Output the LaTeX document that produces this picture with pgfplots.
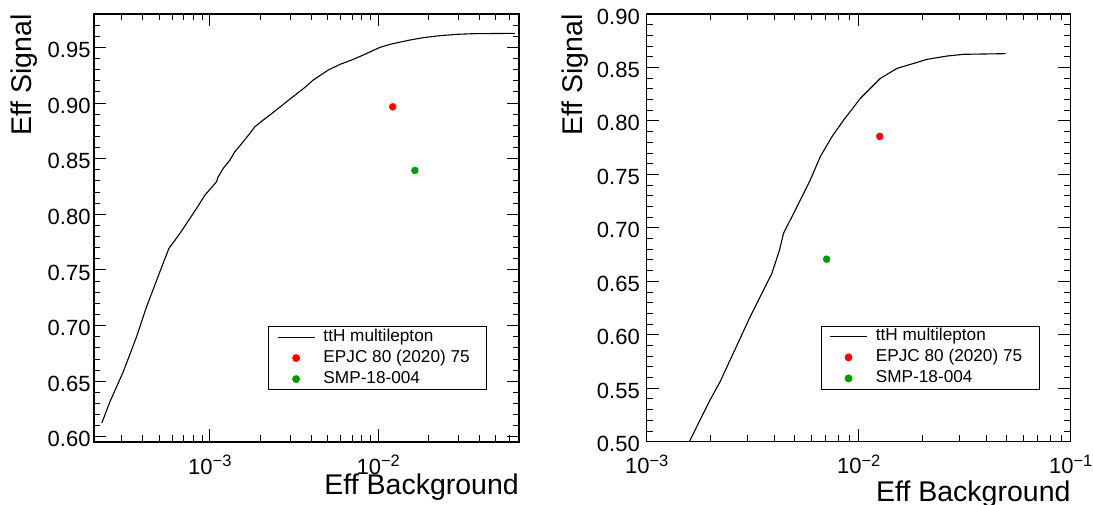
\documentclass[border=0pt]{standalone}
\usepackage{fontspec}
\setmainfont{Liberation Sans}
\usepackage{pgfplots}
\pgfplotsset{compat=1.18}
\definecolor{rootred}{RGB}{255,0,0}
\definecolor{rootgreen}{RGB}{0,153,0}
\newcommand{\tenpow}[1]{10\raisebox{7.5pt}{\fontsize{16.5}{16.5}\selectfont −#1}}
\pgfplotsset{
  rootstyle/.style={
    scale only axis,
    axis line style={line width=1.5pt},
    every tick/.style={black, line width=0.9pt},
    tick align=inside,
    major tick length=12.5pt, minor tick length=6.5pt,
    /pgf/number format/assume math mode=true,
    xticklabel style={font=\fontsize{22}{24}\selectfont, anchor=north, inner sep=0pt, yshift=-13pt},
    yticklabel style={font=\fontsize{22}{24}\selectfont, anchor=east, inner sep=0pt,
      /pgf/number format/fixed, /pgf/number format/fixed zerofill, /pgf/number format/precision=2},
    every axis x label/.style={anchor=base east, inner sep=0pt, font=\fontsize{28.5}{30}\selectfont},
    every axis y label/.style={rotate=90, anchor=base east, inner sep=0pt, font=\fontsize{28.5}{30}\selectfont},
    xlabel={Eff Background}, ylabel={Eff Signal},
    legend cell align=left,
    legend style={anchor=south west, draw=black, line width=0.8pt, fill=white,
      inner xsep=8.4pt, inner ysep=0pt, row sep=0pt, column sep=8.3pt,
      font=\fontsize{17.2}{17.2}\selectfont,
      nodes={inner sep=0pt, text height=14.5pt, text depth=6.5pt}},
  },
  linelegend/.style={legend image code/.code={\draw[##1] (0pt,0pt) -- (37pt,0pt);}},
  marklegend/.style={legend image code/.code={\path[draw=none] (0pt,0pt) -- (37pt,0pt); \draw[##1] plot coordinates {(18.5pt,0pt)};}},
}
\begin{document}
\begin{tikzpicture}
\useasboundingbox (0,0) rectangle (1093pt,505pt);
% ---------------- left panel ----------------
\begin{axis}[xmode=log, rootstyle, at={(94pt,63pt)}, anchor=south west, width=425pt, height=428pt,
  xmin=2.05e-4, xmax=0.0686, ymin=0.5954, ymax=0.98,
  xtick={1e-3,1e-2}, xticklabels={\tenpow{3},\tenpow{2}},
  minor xtick={3e-4,4e-4,5e-4,6e-4,7e-4,8e-4,9e-4,2e-3,3e-3,4e-3,5e-3,6e-3,7e-3,8e-3,9e-3,2e-2,3e-2,4e-2,5e-2,6e-2},
  ytick={0.60,0.65,0.70,0.75,0.80,0.85,0.90,0.95},
  minor ytick={0.60,0.61,0.62,0.63,0.64,0.66,0.67,0.68,0.69,0.71,0.72,0.73,0.74,0.76,0.77,0.78,0.79,0.81,0.82,0.83,0.84,0.86,0.87,0.88,0.89,0.91,0.92,0.93,0.94,0.96,0.97},
  yticklabel style={xshift=-3.3pt, yshift=-2.5pt},
  xlabel style={at={(axis description cs:1,-0.1238)}},
  ylabel style={at={(axis description cs:-0.1459,1)}},
  legend style={at={(axis description cs:0.4101,0.1215)}},
]
\addplot[black, line width=1.1pt, linelegend] coordinates {
(2.2823e-4,0.6125) (2.5458e-4,0.6314) (3.0554e-4,0.6583) (3.6667e-4,0.6898) (4.2055e-4,0.7168)
(5.0467e-4,0.7483) (5.706e-4,0.7692) (6.633e-4,0.7827) (7.606e-4,0.7962) (8.333e-4,0.8052)
(9.339e-4,0.8172) (1.0955e-3,0.8292) (1.1207e-3,0.8337) (1.2000e-3,0.8412) (1.3147e-3,0.8487)
(1.4075e-3,0.8562) (1.5777e-3,0.8652) (1.7282e-3,0.8727) (1.8508e-3,0.8787) (2.0740e-3,0.8847)
(2.2721e-3,0.8892) (2.5459e-3,0.8951) (2.9866e-3,0.9035) (3.6667e-3,0.9140) (4.1096e-3,0.9206)
(5.0467e-3,0.9296) (5.9198e-3,0.9347) (7.1031e-3,0.9392) (8.1457e-3,0.9431) (1.0231e-2,0.9500)
(1.1730e-2,0.9527) (1.5420e-2,0.9566) (1.8505e-2,0.9587) (2.3236e-2,0.9605) (2.9187e-2,0.9617)
(3.6659e-2,0.9623) (6.4820e-2,0.9626)};
\addlegendentry{\makebox[155pt][l]{ttH multilepton}}
\addplot[only marks, mark=*, mark size=3.5pt, color=rootred, marklegend] coordinates {(0.01219,0.8966)};
\addlegendentry{\makebox[155pt][l]{EPJC 80 (2020) 75}}
\addplot[only marks, mark=*, mark size=3.5pt, color=rootgreen, marklegend] coordinates {(0.01651,0.8394)};
\addlegendentry{\makebox[155pt][l]{SMP-18-004}}
\end{axis}
% ---------------- right panel ----------------
\begin{axis}[xmode=log, rootstyle, at={(646.7pt,63.3pt)}, anchor=south west, width=424pt, height=427.7pt,
  xmin=1e-3, xmax=0.1, ymin=0.5, ymax=0.9,
  xtick={1e-3,1e-2,1e-1}, xticklabels={\tenpow{3},\tenpow{2},\tenpow{1}},
  minor xtick={2e-3,3e-3,4e-3,5e-3,6e-3,7e-3,8e-3,9e-3,2e-2,3e-2,4e-2,5e-2,6e-2,7e-2,8e-2,9e-2},
  ytick={0.50,0.55,0.60,0.65,0.70,0.75,0.80,0.85,0.90},
  minor ytick={0.51,0.52,0.53,0.54,0.56,0.57,0.58,0.59,0.61,0.62,0.63,0.64,0.66,0.67,0.68,0.69,0.71,0.72,0.73,0.74,0.76,0.77,0.78,0.79,0.81,0.82,0.83,0.84,0.86,0.87,0.88,0.89},
  yticklabel style={xshift=-6.7pt, yshift=-2.5pt},
  xlabel style={at={(axis description cs:1,-0.1387)}},
  ylabel style={at={(axis description cs:-0.151,1)}},
  legend style={at={(axis description cs:0.4104,0.1225)}},
]
\addplot[black, line width=1.1pt, linelegend] coordinates {
(1.50e-3,0.490) (1.590e-3,0.500) (1.786e-3,0.5203) (1.991e-3,0.5390) (2.220e-3,0.5561)
(2.475e-3,0.5764) (2.760e-3,0.5966) (3.077e-3,0.6169) (3.430e-3,0.6356) (3.895e-3,0.6574)
(4.232e-3,0.6793) (4.420e-3,0.6949) (4.842e-3,0.7104) (5.302e-3,0.7260) (5.909e-3,0.7447)
(6.590e-3,0.7666) (7.482e-3,0.7853) (8.494e-3,0.8008) (1.0183e-2,0.8211) (1.2660e-2,0.8398)
(1.5176e-2,0.8492) (1.8194e-2,0.8538) (2.1027e-2,0.8576) (2.6148e-2,0.8607) (3.1333e-2,0.8623)
(4.930e-2,0.8629)};
\addlegendentry{\makebox[155pt][l]{ttH multilepton}}
\addplot[only marks, mark=*, mark size=3.5pt, color=rootred, marklegend] coordinates {(0.01257,0.7855)};
\addlegendentry{\makebox[155pt][l]{EPJC 80 (2020) 75}}
\addplot[only marks, mark=*, mark size=3.5pt, color=rootgreen, marklegend] coordinates {(0.00706,0.6707)};
\addlegendentry{\makebox[155pt][l]{SMP-18-004}}
\end{axis}
\end{tikzpicture}
\end{document}
